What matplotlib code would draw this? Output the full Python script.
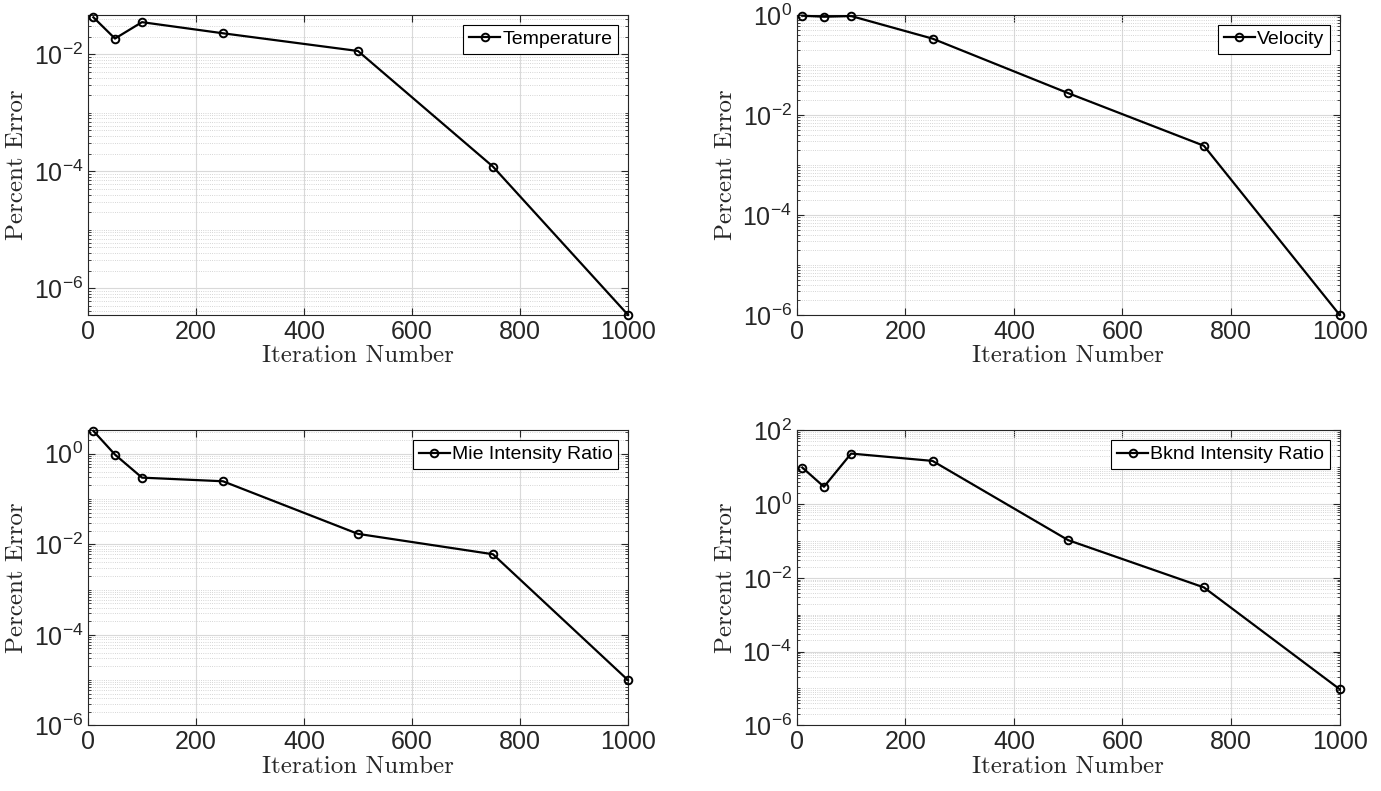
import matplotlib
matplotlib.use('Agg')
import numpy as np
import matplotlib.pyplot as plt
from matplotlib.ticker import FixedLocator, LogLocator, LogFormatterSciNotation

# --- data ---
iters = [10, 50, 100, 250, 500, 750, 1000]
temperature = [0.043, 0.0186, 0.0355, 0.0229, 0.0114, 1.2e-4, 3.5e-7]
velocity = [0.97, 0.925, 0.955, 0.337, 0.0273, 0.00242, 1.0e-6]
mie_ratio = [3.2, 0.96, 0.297, 0.247, 0.0170, 0.00603, 1.0e-5]
bknd_ratio = [9.8, 2.94, 23.4, 14.8, 0.105, 0.0055, 9.6e-6]

labels = ['Temperature', 'Velocity', 'Mie Intensity Ratio', 'Bknd Intensity Ratio']
series = [temperature, velocity, mie_ratio, bknd_ratio]
ylims = [(3.5e-7, 0.047), (1e-6, 1e0), (1e-6, 3.3), (1e-6, 1e2)]

plt.rcParams['font.family'] = ['Liberation Sans', 'DejaVu Sans']

fig = plt.figure(figsize=(13.81, 7.91), dpi=100)

# axes positions [left, bottom, width, height] in figure fraction
positions = [
    [0.0637, 0.602, 0.391, 0.379],
    [0.577, 0.602, 0.393, 0.379],
    [0.0637, 0.083, 0.391, 0.373],
    [0.577, 0.083, 0.393, 0.373],
]

for pos, y, lab, yl in zip(positions, series, labels, ylims):
    ax = fig.add_axes(pos)
    ax.plot(iters, y, color='black', lw=1.6, marker='o', ms=5.5,
            mfc='none', mew=1.4, label=lab, clip_on=False, zorder=5)
    ax.set_yscale('log')
    ax.set_xlim(0, 1000)
    ax.set_ylim(*yl)
    ax.set_xticks(np.arange(0, 1001, 200))

    # labelled ticks every second decade, only inside the y range
    majors = 10.0 ** np.arange(-8, 5, 2)
    majors = majors[(majors >= yl[0] * 0.999) & (majors <= yl[1] * 1.001)]
    ax.yaxis.set_major_locator(FixedLocator(majors))
    ax.yaxis.set_major_formatter(LogFormatterSciNotation())
    ax.yaxis.set_minor_locator(LogLocator(base=10, subs=np.arange(1, 10), numticks=100))
    ax.yaxis.set_minor_formatter(plt.NullFormatter())

    # major grid solid, minor grid dotted (y only)
    ax.grid(True, which='major', color='#d9d9d9', lw=0.8)
    ax.grid(True, which='minor', axis='y', color='#c8c8c8', lw=0.6, linestyle=':')
    ax.set_axisbelow(True)

    ax.tick_params(which='both', direction='in', top=True, right=True,
                   labelsize=18, colors='#262626', labelcolor='#262626')
    ax.tick_params(which='major', length=5)
    ax.tick_params(which='minor', length=2.5)
    for s in ax.spines.values():
        s.set_color('#262626')
        s.set_linewidth(0.8)

    # latex-looking axis labels (computer modern)
    ax.set_xlabel('Iteration Number', fontsize=18, family='cmr10',
                  color='#262626', labelpad=1)
    ax.set_ylabel('Percent Error', fontsize=18, family='cmr10',
                  color='#262626', labelpad=4)

    leg = ax.legend(loc='upper right', fontsize=14, fancybox=False,
                    framealpha=1, edgecolor='black', handlelength=1.6,
                    handletextpad=0.1, borderpad=0.3, borderaxespad=0.5)
    leg.get_frame().set_linewidth(0.8)

plt.savefig('out.png', dpi=100)
